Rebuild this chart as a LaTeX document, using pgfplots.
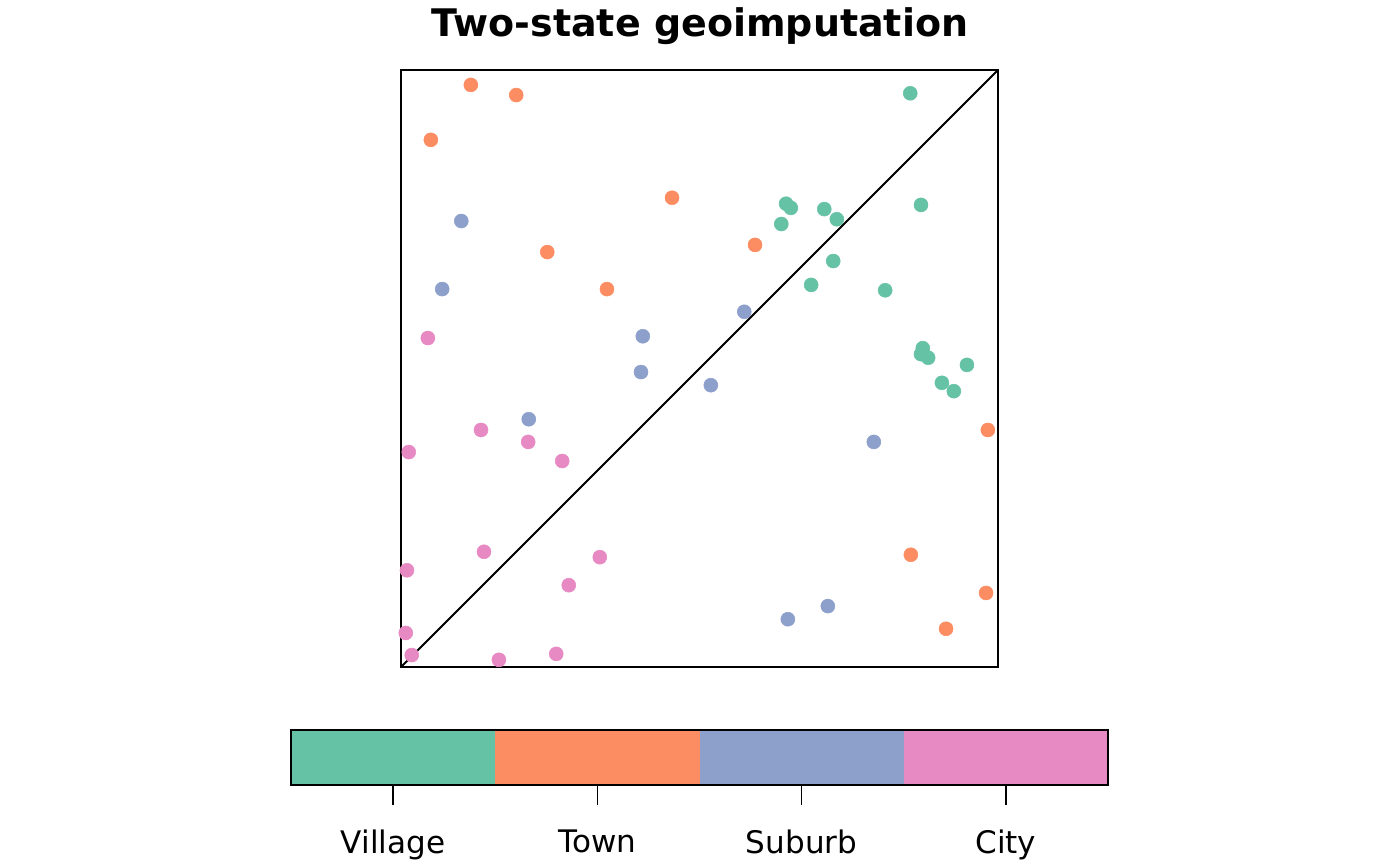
\documentclass[border=0pt]{standalone}
\usepackage{fontspec}
\setmainfont{DejaVu Sans}
\usepackage{pgfplots}
\pgfplotsset{compat=1.18}
\definecolor{village}{HTML}{66C2A5}
\definecolor{town}{HTML}{FC8D62}
\definecolor{suburb}{HTML}{8DA0CB}
\definecolor{city}{HTML}{E78AC3}
\begin{document}
\begin{tikzpicture}
% 1 px of the reference = 0.75pt
\path[use as bounding box] (0,0) rectangle (1050pt,649.5pt);
\node[font=\fontsize{28.5pt}{34pt}\selectfont\bfseries] at (525pt,630pt) {Two-state geoimputation};
\begin{axis}[
  at={(300.75pt,149.25pt)}, anchor=south west,
  width=447.75pt, height=447.75pt, scale only axis,
  xmin=0, xmax=1, ymin=0, ymax=1,
  xtick=\empty, ytick=\empty,
  axis line style={line width=1.4pt},
  clip=false,
]
\addplot[no marks, line width=1.4pt, black] coordinates {(0,0)(1,1)};
\addplot[only marks, mark=*, mark size=5.25pt, color=village] coordinates {
 (0.853,0.961)(0.871,0.774)(0.645,0.776)(0.653,0.769)(0.637,0.742)
 (0.709,0.767)(0.730,0.750)(0.724,0.680)(0.687,0.640)(0.811,0.631)
 (0.874,0.534)(0.871,0.524)(0.883,0.518)(0.948,0.506)(0.906,0.476)(0.926,0.462)
};
\addplot[only marks, mark=*, mark size=5.25pt, color=town] coordinates {
 (0.117,0.975)(0.193,0.958)(0.050,0.883)(0.454,0.786)(0.245,0.695)
 (0.345,0.633)(0.593,0.707)(0.983,0.397)(0.854,0.188)(0.980,0.124)(0.913,0.064)
};
\addplot[only marks, mark=*, mark size=5.25pt, color=suburb] coordinates {
 (0.101,0.747)(0.069,0.633)(0.405,0.554)(0.402,0.494)(0.575,0.595)
 (0.519,0.472)(0.214,0.415)(0.792,0.377)(0.648,0.080)(0.715,0.102)
};
\addplot[only marks, mark=*, mark size=5.25pt, color=city] coordinates {
 (0.045,0.551)(0.013,0.360)(0.134,0.397)(0.213,0.377)(0.270,0.345)
 (0.139,0.193)(0.010,0.162)(0.333,0.184)(0.281,0.137)(0.008,0.057)
 (0.018,0.020)(0.164,0.012)(0.260,0.022)
};
\end{axis}
\begin{axis}[
  at={(218.25pt,60.75pt)}, anchor=south west,
  width=612.75pt, height=41.25pt, scale only axis,
  xmin=0, xmax=4, ymin=0, ymax=1,
  xtick={0.5,1.5,2.5,3.5},
  xticklabels={Village,Town,Suburb,City},
  ytick=\empty, xtick pos=left,
  tick align=outside, major tick length=15pt,
  tick style={line width=1.1pt, black},
  ticklabel style={font=\fontsize{23.3pt}{28pt}\selectfont, yshift=-15pt},
  axis line style={line width=1.1pt},
  axis on top,
]
\addplot[fill=village, draw=none] coordinates {(0,1)(1,1)} \closedcycle;
\addplot[fill=town, draw=none] coordinates {(1,1)(2,1)} \closedcycle;
\addplot[fill=suburb, draw=none] coordinates {(2,1)(3,1)} \closedcycle;
\addplot[fill=city, draw=none] coordinates {(3,1)(4,1)} \closedcycle;
\end{axis}
\end{tikzpicture}
\end{document}
